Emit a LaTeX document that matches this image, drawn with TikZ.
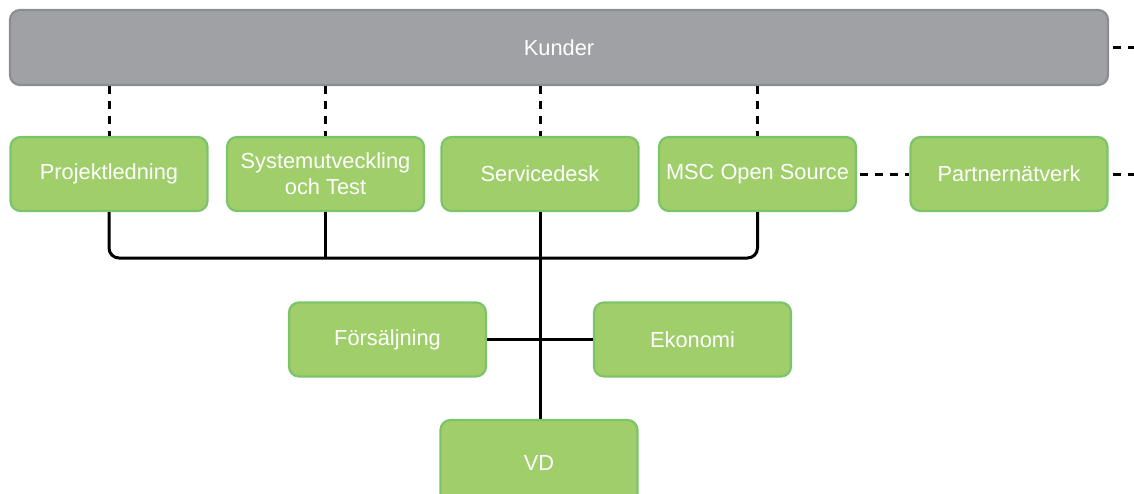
\documentclass[tikz,border=0pt]{standalone}
\usepackage{fontspec}
\setmainfont{Liberation Sans}
\begin{document}
\begin{tikzpicture}[x=1pt,y=-1pt,
  every node/.style={font=\fontsize{21.8}{26}\selectfont, text=white, align=center},
  graybox/.style={rectangle, rounded corners=10pt, draw=kundborder, fill=kundfill, line width=2.2pt,
    minimum width=1098pt, minimum height=75pt, inner sep=0pt},
  unit/.style={rectangle, rounded corners=10pt, draw=unitborder, fill=unitfill, line width=2.2pt,
    minimum width=197pt, minimum height=74pt, inner sep=0pt},
  link/.style={line width=3pt, black},
  dlink/.style={line width=3pt, black, dash pattern=on 8pt off 7pt}]
\definecolor{kundfill}{HTML}{A0A1A5}
\definecolor{kundborder}{HTML}{8C8D91}
\definecolor{unitfill}{HTML}{9FCE6A}
\definecolor{unitborder}{HTML}{7CC46A}
\useasboundingbox (0,0) rectangle (1134,493);

% customer bar and first row of units
\node[graybox] (kunder) at (559,47.5) {Kunder};
\node[unit] (proj) at (109,174) {Projektledning};
\node[unit] (syst) at (325.5,174) {Systemutveckling\\och Test};
\node[unit] (serv) at (540,174) {Servicedesk};
\node[unit] (msc) at (757.5,174) {MSC Open Source};
\node[unit] (partner) at (1009,174) {Partnernätverk};

% lower units
\node[unit] (fors) at (387.5,339.5) {Försäljning};
\node[unit] (eko) at (692.5,339.5) {Ekonomi};
\node[unit, minimum height=86pt] (vd) at (539,463) {VD};

% free ends on the right edge
\coordinate (kundout) at (1134,47.5);
\coordinate (partout) at (1134,174);
\coordinate (bus) at (0,258);

% dashed links to the customers and partners
\draw[dlink] (kunder.south -| proj) -- (proj.north);
\draw[dlink] (kunder.south -| syst) -- (syst.north);
\draw[dlink] (kunder.south -| serv) -- (serv.north);
\draw[dlink] (kunder.south -| msc) -- (msc.north);
\draw[dlink] (kunder.east) ++(4pt,0) -- (kundout);
\draw[dlink] (msc.east) ++(3pt,0) -- (partner.west);
\draw[dlink] (partner.east) ++(4pt,0) -- (partout);

% solid organisation lines
\draw[link, rounded corners=10pt] (proj.south) |- (msc.south |- bus) -- (msc.south);
\draw[link] (syst.south) -- (syst.south |- bus);
\draw[link] (serv.south) -- (serv.south |- vd.north);
\draw[link] (fors.east) -- (eko.west);
\end{tikzpicture}
\end{document}
